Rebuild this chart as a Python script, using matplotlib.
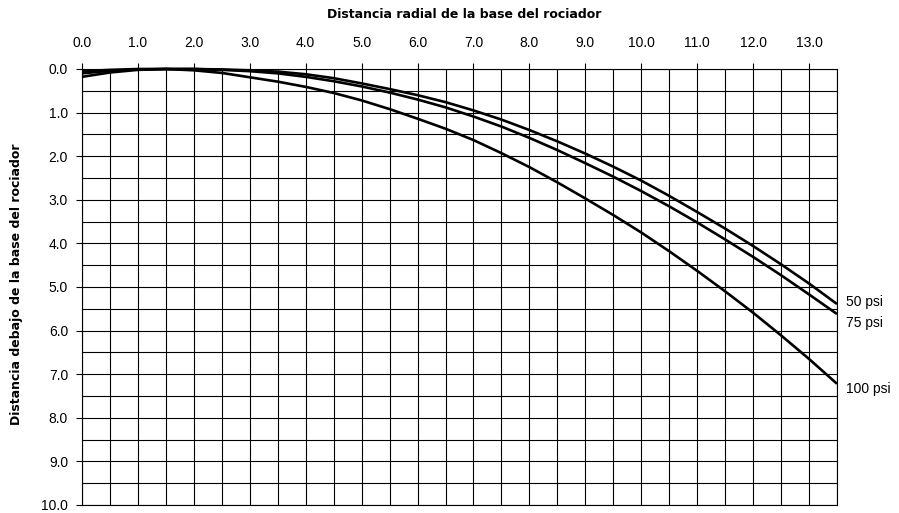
import matplotlib
matplotlib.use("Agg")
import matplotlib.pyplot as plt
import numpy as np

# Data
radial = [0.0, 0.5, 1.0, 1.5, 2.0, 2.5, 3.0, 3.5, 4.0, 4.5, 5.0, 5.5, 6.0, 6.5,
          7.0, 7.5, 8.0, 8.5, 9.0, 9.5, 10.0, 10.5, 11.0, 11.5, 12.0, 12.5, 13.0, 13.5]
drop_50 = [0.05, 0.02, 0.00, 0.00, 0.00, 0.01, 0.03, 0.06, 0.12, 0.21, 0.33, 0.46, 0.60, 0.76,
           0.95, 1.16, 1.40, 1.66, 1.94, 2.24, 2.56, 2.91, 3.28, 3.66, 4.06, 4.48, 4.92, 5.39]
drop_75 = [0.10, 0.04, 0.01, 0.00, 0.00, 0.02, 0.05, 0.10, 0.18, 0.28, 0.40, 0.54, 0.70, 0.88,
           1.09, 1.32, 1.58, 1.86, 2.16, 2.47, 2.80, 3.15, 3.52, 3.91, 4.31, 4.73, 5.17, 5.62]
drop_100 = [0.18, 0.08, 0.02, 0.00, 0.03, 0.09, 0.19, 0.29, 0.41, 0.55, 0.72, 0.92, 1.14, 1.37,
            1.63, 1.93, 2.25, 2.60, 2.97, 3.35, 3.75, 4.18, 4.63, 5.10, 5.59, 6.11, 6.65, 7.22]
series_labels = ["50 psi", "75 psi", "100 psi"]
label_y = [5.34, 5.83, 7.33]
x_ticks = [0.0, 1.0, 2.0, 3.0, 4.0, 5.0, 6.0, 7.0, 8.0, 9.0, 10.0, 11.0, 12.0, 13.0]
y_ticks = [0.0, 1.0, 2.0, 3.0, 4.0, 5.0, 6.0, 7.0, 8.0, 9.0, 10.0]
x_label = "Distancia radial de la base del rociador"
y_label = "Distancia debajo de la base del rociador"

fig = plt.figure(figsize=(8.99, 5.13), dpi=100)
ax = fig.add_axes([82 / 899, 1 - 505 / 513, (837 - 82) / 899, (505 - 69) / 513])

ax.set_xlim(0, 13.5)
ax.set_ylim(10, 0)

# grid every 0.5
ax.set_xticks(np.arange(0, 13.51, 0.5), minor=True)
ax.set_yticks(np.arange(0, 10.01, 0.5), minor=True)
ax.grid(which="both", color="black", linewidth=0.8)
ax.set_axisbelow(True)
ax.tick_params(which="minor", length=0)

ax.xaxis.tick_top()
ax.set_xticks(x_ticks)
ax.set_xticklabels([f"{v:.1f}" for v in x_ticks], fontfamily="Liberation Sans", fontsize=10)
ax.set_yticks(y_ticks)
ax.set_yticklabels([f"{v:.1f}" for v in y_ticks], fontfamily="Liberation Sans", fontsize=10)
ax.tick_params(which="major", length=4, width=0.8, color="black")
ax.tick_params(axis="x", which="major", pad=10)
ax.tick_params(axis="y", which="major", pad=6)

for s in ax.spines.values():
    s.set_linewidth(0.8)
    s.set_color("black")

for vals in (drop_50, drop_75, drop_100):
    ax.plot(radial, vals, color="black", linewidth=1.9, clip_on=False,
            solid_joinstyle="round", solid_capstyle="butt")

for lab, yv in zip(series_labels, label_y):
    ax.text(13.66, yv, lab, fontfamily="Liberation Sans", fontsize=10,
            ha="left", va="center", clip_on=False)

fig.text(464 / 899, 1 - 14 / 513, x_label, ha="center", va="center",
         fontfamily="DejaVu Sans", fontweight="bold", fontsize=9)
fig.text(17 / 899, 1 - 284 / 513, y_label, ha="center", va="center", rotation=90,
         fontfamily="DejaVu Sans", fontweight="bold", fontsize=9)

fig.savefig("out.png", dpi=100)
